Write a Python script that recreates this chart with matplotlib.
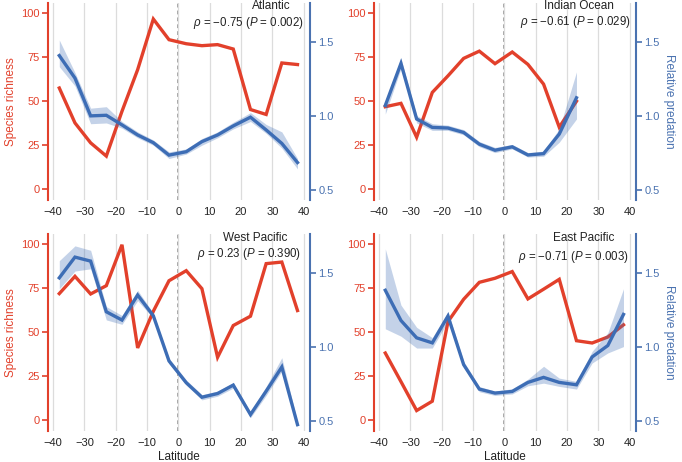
import matplotlib
matplotlib.use('Agg')
import matplotlib.pyplot as plt
import numpy as np

plt.rcParams['font.family'] = ['Liberation Sans', 'DejaVu Sans']
plt.rcParams['mathtext.fontset'] = 'custom'
plt.rcParams['mathtext.rm'] = 'Liberation Sans'
plt.rcParams['mathtext.it'] = 'Liberation Sans:italic'

RED = '#E2402B'
BLUE = '#3D6DB5'
TXT = '#222222'

# latitude bin centres
lat = [-38, -33, -28, -23, -18, -13, -8, -3, 2.5, 7.5, 12.5, 17.5, 23, 28, 33, 38]

# Atlantic
atl_rich = [57.5, 37.7, 26.4, 18.9, 44.3, 67.9, 96.6, 84.9, 82.6, 81.5, 82.1, 79.6, 45.3, 42.5, 71.7, 70.8]
atl_pred = [1.405, 1.253, 0.998, 1.002, 0.937, 0.869, 0.817, 0.733, 0.756, 0.824, 0.869, 0.930, 0.989, 0.903, 0.812, 0.683]
atl_lo = [1.33, 1.20, 0.945, 0.95, 0.915, 0.85, 0.80, 0.71, 0.74, 0.80, 0.85, 0.91, 0.96, 0.88, 0.78, 0.64]
atl_hi = [1.51, 1.29, 1.05, 1.06, 0.96, 0.89, 0.835, 0.755, 0.775, 0.845, 0.89, 0.955, 1.02, 0.94, 0.89, 0.71]

# Indian Ocean (stops at 23)
ind_rich = [46.9, 48.8, 29.6, 55.0, 64.4, 74.3, 78.4, 71.3, 77.9, 70.9, 59.7, 35.3, 50.0]
ind_pred = [1.068, 1.352, 0.977, 0.920, 0.916, 0.886, 0.807, 0.766, 0.789, 0.734, 0.743, 0.875, 1.120]
ind_lo = [1.01, 1.318, 0.95, 0.90, 0.90, 0.87, 0.79, 0.75, 0.775, 0.72, 0.725, 0.82, 0.977]
ind_hi = [1.10, 1.386, 1.00, 0.945, 0.935, 0.905, 0.825, 0.785, 0.805, 0.75, 0.76, 0.91, 1.295]

# West Pacific
wp_rich = [71.9, 81.7, 71.7, 76.4, 99.6, 41.1, 61.9, 79.2, 84.9, 74.7, 35.8, 53.8, 59.1, 88.9, 89.8, 62.3]
wp_pred = [1.464, 1.604, 1.577, 1.235, 1.179, 1.348, 1.208, 0.903, 0.756, 0.658, 0.683, 0.740, 0.541, 0.699, 0.862, 0.473]
wp_lo = [1.39, 1.51, 1.525, 1.18, 1.15, 1.31, 1.19, 0.885, 0.74, 0.64, 0.665, 0.72, 0.52, 0.67, 0.835, 0.455]
wp_hi = [1.58, 1.68, 1.65, 1.27, 1.21, 1.38, 1.225, 0.92, 0.775, 0.675, 0.70, 0.755, 0.56, 0.73, 0.925, 0.49]

# East Pacific
ep_rich = [38.2, 22.0, 5.6, 10.9, 56.0, 68.7, 78.3, 80.6, 84.4, 68.9, 74.4, 80.0, 45.2, 43.9, 47.3, 54.2]
ep_pred = [1.380, 1.176, 1.059, 1.025, 1.206, 0.878, 0.713, 0.686, 0.697, 0.758, 0.792, 0.758, 0.742, 0.930, 1.007, 1.217]
ep_lo = [1.12, 1.07, 0.99, 0.99, 1.17, 0.86, 0.695, 0.67, 0.68, 0.735, 0.753, 0.731, 0.713, 0.889, 0.957, 1.00]
ep_hi = [1.66, 1.28, 1.13, 1.06, 1.235, 0.90, 0.73, 0.70, 0.715, 0.78, 0.867, 0.787, 0.765, 0.968, 1.093, 1.39]

titles = ['Atlantic', 'Indian Ocean', 'West Pacific', 'East Pacific']
stats = ['$\\rho$ = \u22120.75 ($P$ = 0.002)', '$\\rho$ = \u22120.61 ($P$ = 0.029)',
         '$\\rho$ = 0.23 ($P$ = 0.390)', '$\\rho$ = \u22120.71 ($P$ = 0.003)']
xticks = [-40, -30, -20, -10, 0, 10, 20, 30, 40]
rich_ticks = [0, 25, 50, 75, 100]
pred_ticks = [0.5, 1.0, 1.5]


def draw_panel(rect, x, rich, pred, lo, hi, title, stat, title_pos, stat_pos,
               left_label, right_label, bottom_label):
    ax = fig.add_axes(rect)
    ax.set_xlim(-41.6, 42)
    ax.set_ylim(-6, 105.7)
    ax.set_xticks(xticks)
    ax.set_yticks(rich_ticks)
    ax.grid(axis='x', color='#dcdcdc', lw=0.9, zorder=0)
    ax.axvline(0, color='#8a8a8a', lw=1.1, ls=(0, (2.5, 2)), zorder=1)
    ax.plot(x, rich, color=RED, lw=2.4, solid_joinstyle='miter', zorder=3)
    for s in ['top', 'bottom', 'right']:
        ax.spines[s].set_visible(False)
    ax.spines['left'].set_color(RED)
    ax.spines['left'].set_linewidth(1.5)
    ax.tick_params(axis='y', colors=RED, labelsize=8, length=4, width=1.2, pad=2)
    ax.tick_params(axis='x', length=0, labelsize=8, labelcolor=TXT, pad=5)
    if left_label:
        ax.set_ylabel('Species richness', color=RED, fontsize=8.5, labelpad=3)
    if bottom_label:
        ax.set_xlabel('Latitude', color=TXT, fontsize=8.5, labelpad=2)

    ax2 = ax.twinx()
    ax2.set_ylim(0.43, 1.76)
    ax2.set_yticks(pred_ticks)
    ax2.fill_between(x, lo, hi, color=BLUE, alpha=0.3, lw=0)
    ax2.plot(x, pred, color=BLUE, lw=2.4, solid_joinstyle='miter')
    for s in ['top', 'bottom', 'left']:
        ax2.spines[s].set_visible(False)
    ax2.spines['right'].set_color('#4A72B0')
    ax2.spines['right'].set_linewidth(1.5)
    ax2.tick_params(axis='y', colors='#4A72B0', labelsize=8, length=4, width=1.2, pad=2)
    if right_label:
        ax2.set_ylabel('Relative predation', color='#4A72B0', fontsize=8.5,
                       rotation=270, labelpad=11)

    ax2.text(title_pos[0], title_pos[1], title, transform=ax.transAxes,
             ha='center', va='center', fontsize=8.5, color=TXT)
    ax2.text(stat_pos[0], stat_pos[1], stat, transform=ax.transAxes,
             ha='center', va='center', fontsize=8.3, color=TXT)
    return ax


fig = plt.figure(figsize=(6.82, 4.62), dpi=100)

draw_panel([0.0704, 0.5671, 0.3842, 0.4264], lat, atl_rich, atl_pred, atl_lo, atl_hi,
           titles[0], stats[0], (0.851, 0.986), (0.766, 0.90), True, False, False)
draw_panel([0.5484, 0.5671, 0.3842, 0.4264], lat[:13], ind_rich, ind_pred, ind_lo, ind_hi,
           titles[1], stats[1], (0.784, 0.986), (0.767, 0.905), False, True, False)
draw_panel([0.0704, 0.0671, 0.3842, 0.4264], lat, wp_rich, wp_pred, wp_lo, wp_hi,
           titles[2], stats[2], (0.790, 0.981), (0.766, 0.90), True, False, True)
draw_panel([0.5484, 0.0671, 0.3842, 0.4264], lat, ep_rich, ep_pred, ep_lo, ep_hi,
           titles[3], stats[3], (0.800, 0.978), (0.760, 0.883), False, True, True)

plt.savefig('out.png', dpi=100)
